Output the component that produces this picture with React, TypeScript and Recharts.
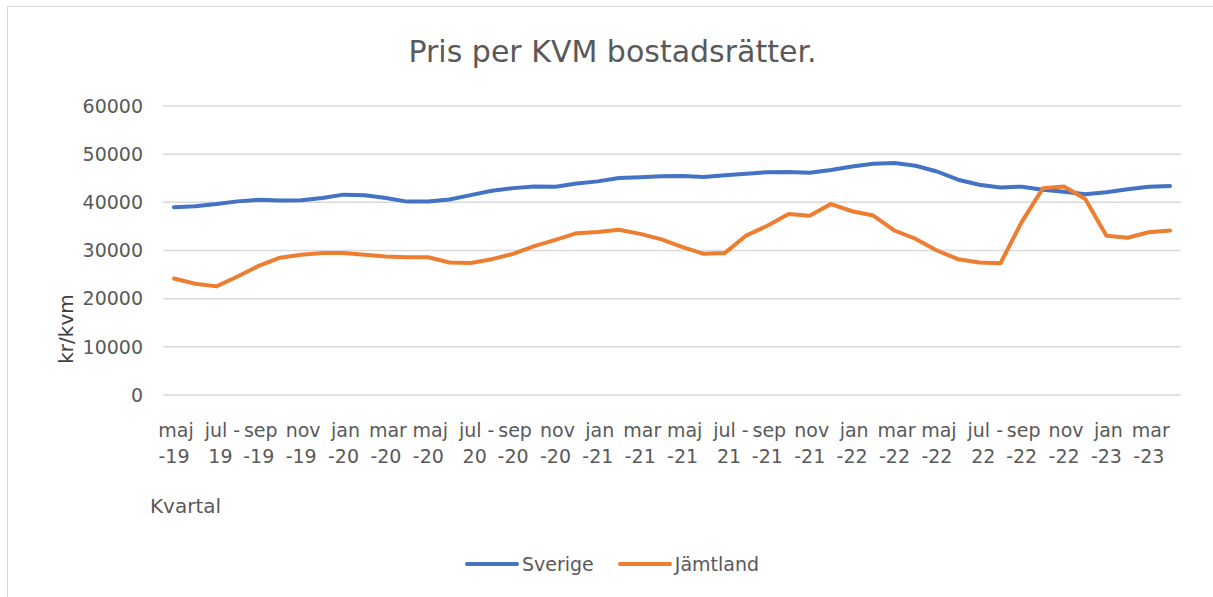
import React from 'react';
import {
  LineChart,
  Line,
  XAxis,
  YAxis,
  CartesianGrid,
} from 'recharts';

const MONTHS = [
  'maj-19', 'jun-19', 'jul-19', 'aug-19', 'sep-19', 'okt-19', 'nov-19', 'dec-19',
  'jan-20', 'feb-20', 'mar-20', 'apr-20', 'maj-20', 'jun-20', 'jul-20', 'aug-20',
  'sep-20', 'okt-20', 'nov-20', 'dec-20', 'jan-21', 'feb-21', 'mar-21', 'apr-21',
  'maj-21', 'jun-21', 'jul-21', 'aug-21', 'sep-21', 'okt-21', 'nov-21', 'dec-21',
  'jan-22', 'feb-22', 'mar-22', 'apr-22', 'maj-22', 'jun-22', 'jul-22', 'aug-22',
  'sep-22', 'okt-22', 'nov-22', 'dec-22', 'jan-23', 'feb-23', 'mar-23', 'apr-23',
];

const SVERIGE = [
  39000, 39200, 39650, 40200, 40550, 40400, 40450, 40900,
  41600, 41450, 40900, 40150, 40150, 40600, 41500, 42400,
  42950, 43300, 43250, 43900, 44350, 45050, 45200, 45400,
  45450, 45250, 45600, 45950, 46250, 46300, 46150, 46700,
  47450, 48000, 48150, 47600, 46400, 44700, 43650, 43100,
  43250, 42600, 42200, 41700, 42100, 42700, 43250, 43400,
];

const JAMTLAND = [
  24200, 23100, 22550, 24600, 26800, 28500, 29100, 29500,
  29500, 29100, 28750, 28600, 28600, 27500, 27400, 28200,
  29300, 30900, 32200, 33600, 33850, 34300, 33450, 32300,
  30700, 29300, 29500, 33100, 35150, 37600, 37200, 39650,
  38150, 37250, 34150, 32400, 30000, 28200, 27500, 27350,
  35900, 42900, 43300, 40700, 33050, 32650, 33800, 34150,
];

const Y_TICKS = [0, 10000, 20000, 30000, 40000, 50000, 60000];

const SERIES = [
  { key: 'sverige', name: 'Sverige', color: '#4472C4' },
  { key: 'jamtland', name: 'Jämtland', color: '#ED7D31' },
];

const data = MONTHS.map((m, i) => ({ month: m, sverige: SVERIGE[i], jamtland: JAMTLAND[i] }));

const FONT = '"DejaVu Sans", sans-serif';
const GREY = '#595959';

// Excel wrapped "jul-19" as "jul -" / "19", the others as "maj" / "-19"
function MonthTick(props: any) {
  const { x, y, payload } = props;
  const [mon, yr] = String(payload.value).split('-');
  const line1 = mon === 'jul' ? 'jul -' : mon;
  const line2 = mon === 'jul' ? yr : '-' + yr;
  return (
    <g transform={`translate(${x},${y})`}>
      <text textAnchor="middle" fill={GREY} fontSize={19} fontFamily={FONT}>
        <tspan x={mon === 'jul' ? 6 : 2} y={34}>{line1}</tspan>
        <tspan x={mon === 'jul' ? 4 : 0} y={60}>{line2}</tspan>
      </text>
    </g>
  );
}

export default function App() {
  return (
    <div style={{ position: 'absolute', left: 0, top: 0, width: 1213, height: 597, overflow: 'hidden', background: '#fff' }}>
      <div style={{ position: 'absolute', left: 7, top: 6, width: 1220, height: 620, border: '1px solid #d9d9d9' }} />
      <div style={{ position: 'absolute', left: 0, top: 34, width: 1225, textAlign: 'center', fontFamily: FONT, fontSize: 30, color: GREY }}>
        Pris per KVM bostadsrätter.
      </div>
      <div style={{ position: 'absolute', left: 150, top: 494, fontFamily: FONT, fontSize: 20, color: GREY }}>
        Kvartal
      </div>
      <div
        style={{
          position: 'absolute', left: 66, top: 329, transform: 'translate(-50%, -50%) rotate(-90deg)',
          fontFamily: FONT, fontSize: 20, color: '#404040', whiteSpace: 'nowrap',
        }}
      >
        kr/kvm
      </div>
      <div
        style={{
          position: 'absolute', left: 0, top: 553, width: 1224, display: 'flex', justifyContent: 'center',
          gap: 24, fontFamily: FONT, fontSize: 19, color: GREY,
        }}
      >
        {SERIES.map((s) => (
          <div key={s.key} style={{ display: 'flex', alignItems: 'center' }}>
            <svg width={54} height={10} style={{ marginRight: 3 }}>
              <line x1={2} y1={5} x2={52} y2={5} stroke={s.color} strokeWidth={4} strokeLinecap="round" />
            </svg>
            <span>{s.name}</span>
          </div>
        ))}
      </div>
      <LineChart
        width={1213}
        height={597}
        data={data}
        margin={{ top: 106, right: 32, left: 0, bottom: 142 }}
        style={{ position: 'absolute', left: 0, top: 0 }}
      >
        <CartesianGrid vertical={false} stroke="#d9d9d9" strokeWidth={1.5} />
        <XAxis
          dataKey="month"
          interval={1}
          axisLine={false}
          tickLine={false}
          height={60}
          padding={{ left: 11, right: 11 }}
          tick={<MonthTick />}
        />
        <YAxis
          width={163}
          domain={[0, 60000]}
          ticks={Y_TICKS}
          axisLine={false}
          tickLine={false}
          tickMargin={14}
          tick={{ fill: GREY, fontSize: 19, fontFamily: FONT }}
        />
        {SERIES.map((s) => (
          <Line
            key={s.key}
            dataKey={s.key}
            name={s.name}
            stroke={s.color}
            strokeWidth={4}
            dot={false}
            isAnimationActive={false}
            strokeLinejoin="round"
            strokeLinecap="round"
          />
        ))}
      </LineChart>
    </div>
  );
}
